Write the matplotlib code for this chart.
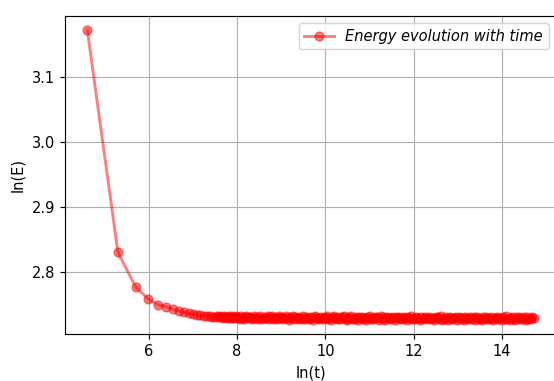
import matplotlib

matplotlib.use('Agg')
import matplotlib.pyplot as plt

# early points: ln(t) for t = 100, 200, ..., 1800 and ln(E)
ln_t_early = [4.605, 5.298, 5.704, 5.991, 6.215, 6.397, 6.551, 6.685, 6.802,
              6.908, 7.003, 7.090, 7.170, 7.244, 7.313, 7.378, 7.438, 7.496]
ln_e_early = [3.172, 2.830, 2.776, 2.758, 2.749, 2.746, 2.742, 2.740, 2.738,
              2.736, 2.735, 2.734, 2.733, 2.7325, 2.732, 2.7315, 2.731, 2.7305]

# dense tail (flat part)
ln_t_tail = [
    7.55, 7.58, 7.61, 7.64, 7.67, 7.70, 7.73, 7.76, 7.79, 7.82,
    7.85, 7.88, 7.91, 7.94, 7.97, 8.00, 8.03, 8.06, 8.09, 8.12,
    8.15, 8.18, 8.21, 8.24, 8.27, 8.30, 8.33, 8.36, 8.39, 8.42,
    8.45, 8.48, 8.51, 8.54, 8.57, 8.60, 8.63, 8.66, 8.69, 8.72,
    8.75, 8.78, 8.81, 8.84, 8.87, 8.90, 8.93, 8.96, 8.99, 9.02,
    9.05, 9.08, 9.11, 9.14, 9.17, 9.20, 9.23, 9.26, 9.29, 9.32,
    9.35, 9.38, 9.41, 9.44, 9.47, 9.50, 9.53, 9.56, 9.59, 9.62,
    9.65, 9.68, 9.71, 9.74, 9.77, 9.80, 9.83, 9.86, 9.89, 9.92,
    9.95, 9.98, 10.01, 10.04, 10.07, 10.10, 10.13, 10.16, 10.19, 10.22,
    10.25, 10.28, 10.31, 10.34, 10.37, 10.40, 10.43, 10.46, 10.49, 10.52,
    10.55, 10.58, 10.61, 10.64, 10.67, 10.70, 10.73, 10.76, 10.79, 10.82,
    10.85, 10.88, 10.91, 10.94, 10.97, 11.00, 11.03, 11.06, 11.09, 11.12,
    11.15, 11.18, 11.21, 11.24, 11.27, 11.30, 11.33, 11.36, 11.39, 11.42,
    11.45, 11.48, 11.51, 11.54, 11.57, 11.60, 11.63, 11.66, 11.69, 11.72,
    11.75, 11.78, 11.81, 11.84, 11.87, 11.90, 11.93, 11.96, 11.99, 12.02,
    12.05, 12.08, 12.11, 12.14, 12.17, 12.20, 12.23, 12.26, 12.29, 12.32,
    12.35, 12.38, 12.41, 12.44, 12.47, 12.50, 12.53, 12.56, 12.59, 12.62,
    12.65, 12.68, 12.71, 12.74, 12.77, 12.80, 12.83, 12.86, 12.89, 12.92,
    12.95, 12.98, 13.01, 13.04, 13.07, 13.10, 13.13, 13.16, 13.19, 13.22,
    13.25, 13.28, 13.31, 13.34, 13.37, 13.40, 13.43, 13.46, 13.49, 13.52,
    13.55, 13.58, 13.61, 13.64, 13.67, 13.70, 13.73, 13.76, 13.79, 13.82,
    13.85, 13.88, 13.91, 13.94, 13.97, 14.00, 14.03, 14.06, 14.09, 14.12,
    14.15, 14.18, 14.21, 14.24, 14.27, 14.30, 14.33, 14.36, 14.39, 14.42,
    14.45, 14.48, 14.51, 14.54, 14.57, 14.60, 14.63, 14.66, 14.69, 14.72,
]
ln_e_tail = [
    2.7312, 2.7296, 2.7318, 2.7303, 2.7290, 2.7315, 2.7298, 2.7307, 2.7286, 2.7311,
    2.7295, 2.7316, 2.7283, 2.7305, 2.7320, 2.7289, 2.7300, 2.7278, 2.7313, 2.7292,
    2.7276, 2.7304, 2.7317, 2.7284, 2.7297, 2.7310, 2.7272, 2.7291, 2.7315, 2.7286,
    2.7302, 2.7279, 2.7319, 2.7290, 2.7269, 2.7308, 2.7295, 2.7281, 2.7314, 2.7274,
    2.7298, 2.7316, 2.7277, 2.7288, 2.7306, 2.7267, 2.7293, 2.7317, 2.7280, 2.7302,
    2.7271, 2.7295, 2.7311, 2.7285, 2.7264, 2.7305, 2.7290, 2.7318, 2.7275, 2.7298,
    2.7287, 2.7268, 2.7310, 2.7294, 2.7278, 2.7314, 2.7265, 2.7300, 2.7289, 2.7274,
    2.7307, 2.7282, 2.7263, 2.7297, 2.7315, 2.7280, 2.7293, 2.7270, 2.7306, 2.7288,
    2.7267, 2.7302, 2.7285, 2.7312, 2.7275, 2.7294, 2.7261, 2.7299, 2.7317, 2.7281,
    2.7292, 2.7272, 2.7305, 2.7265, 2.7296, 2.7283, 2.7311, 2.7277, 2.7262, 2.7300,
    2.7288, 2.7314, 2.7270, 2.7293, 2.7279, 2.7303, 2.7263, 2.7297, 2.7286, 2.7309,
    2.7274, 2.7294, 2.7262, 2.7302, 2.7283, 2.7316, 2.7271, 2.7290, 2.7267, 2.7306,
    2.7281, 2.7299, 2.7264, 2.7289, 2.7312, 2.7276, 2.7296, 2.7260, 2.7303, 2.7284,
    2.7293, 2.7270, 2.7307, 2.7280, 2.7263, 2.7300, 2.7288, 2.7310, 2.7268, 2.7295,
    2.7276, 2.7304, 2.7286, 2.7262, 2.7298, 2.7282, 2.7313, 2.7272, 2.7291, 2.7265,
    2.7302, 2.7283, 2.7295, 2.7260, 2.7308, 2.7275, 2.7289, 2.7299, 2.7266, 2.7286,
    2.7309, 2.7268, 2.7292, 2.7280, 2.7262, 2.7303, 2.7285, 2.7296, 2.7274, 2.7312,
    2.7264, 2.7291, 2.7279, 2.7301, 2.7261, 2.7286, 2.7306, 2.7271, 2.7295, 2.7282,
    2.7298, 2.7263, 2.7288, 2.7310, 2.7276, 2.7294, 2.7260, 2.7302, 2.7283, 2.7269,
    2.7290, 2.7307, 2.7266, 2.7284, 2.7298, 2.7262, 2.7305, 2.7278, 2.7292, 2.7273,
    2.7261, 2.7296, 2.7281, 2.7309, 2.7268, 2.7288, 2.7277, 2.7301, 2.7260, 2.7294,
    2.7284, 2.7303, 2.7267, 2.7291, 2.7280, 2.7262, 2.7299, 2.7275, 2.7311, 2.7270,
    2.7293, 2.7264, 2.7287, 2.7305, 2.7273, 2.7260, 2.7296, 2.7282, 2.7302, 2.7266,
    2.7290, 2.7279, 2.7307, 2.7261, 2.7297, 2.7276, 2.7292, 2.7270, 2.7301, 2.7285,
]

ln_t = ln_t_early + ln_t_tail
ln_e = ln_e_early + ln_e_tail

dpi = 105
fig = plt.figure(figsize=(554 / dpi, 381 / dpi), dpi=dpi)
ax = fig.add_axes([0.1173, 0.1226, 0.8863, 0.8367])

ax.plot(ln_t, ln_e, marker='o', linestyle='-', color='red', alpha=0.5,
        linewidth=2, label='Energy evolution with time')
ax.set_xlabel('ln(t)')
ax.set_ylabel('ln(E)')
ax.set_xticks([6, 8, 10, 12, 14])
ax.set_yticks([2.8, 2.9, 3.0, 3.1])
ax.grid(True)
ax.legend(loc='upper right', prop={'style': 'italic'})

fig.savefig('out.png', dpi=dpi)
